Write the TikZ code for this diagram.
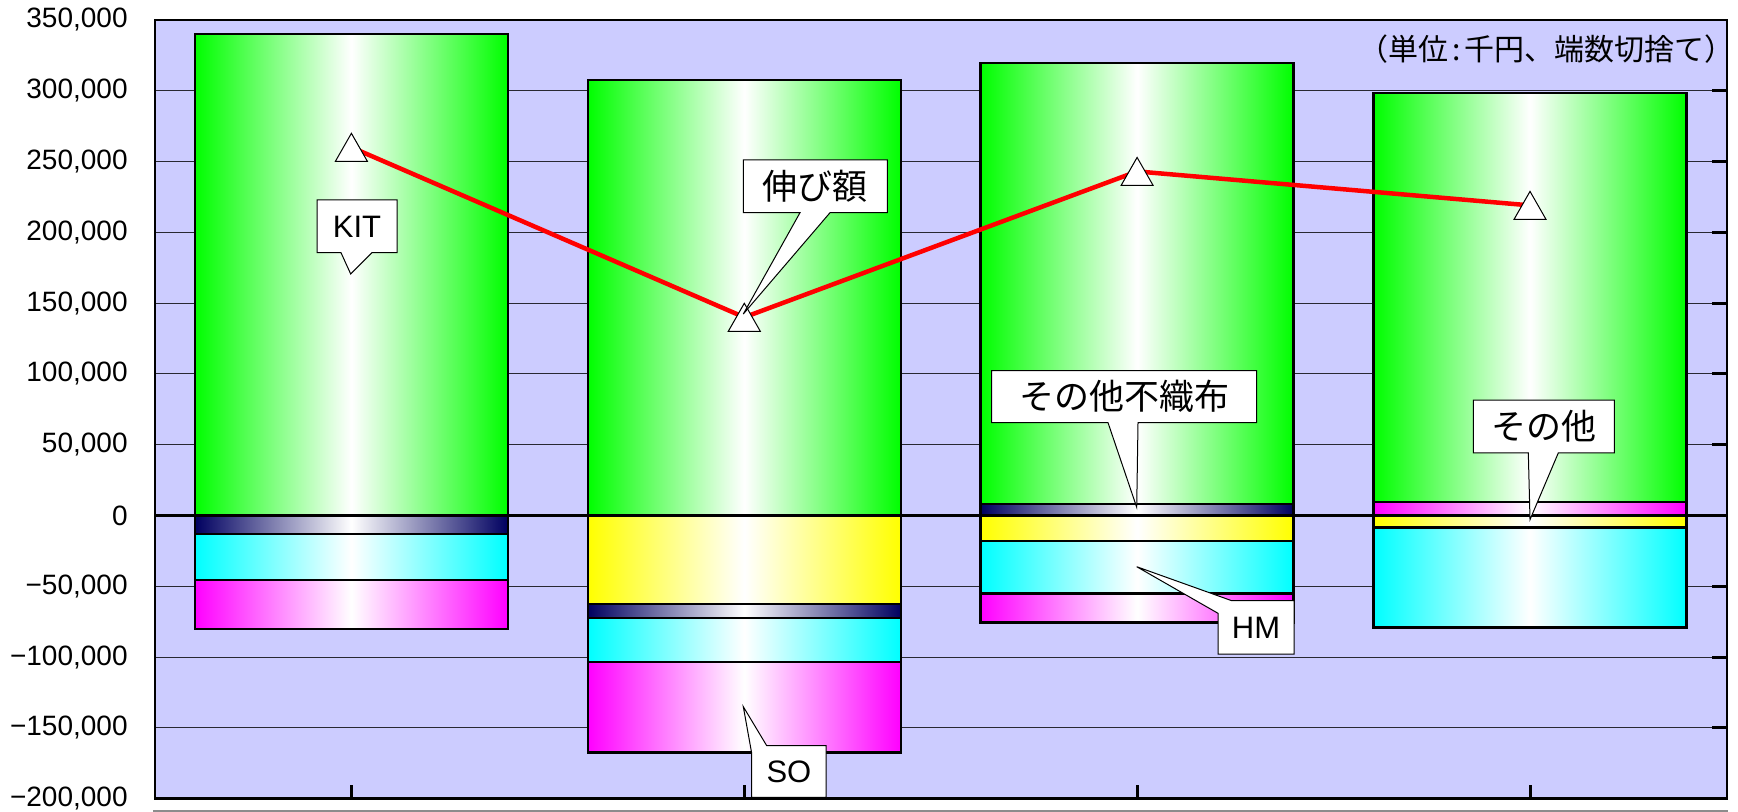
\documentclass[tikz,border=0pt]{standalone}
\usepackage{fontspec}
\setmainfont{Liberation Sans}
\newfontfamily\jpfont{Noto Sans CJK JP}
\definecolor{plotbg}{RGB}{204,204,255}
\definecolor{bgreen}{RGB}{0,255,0}
\definecolor{bcyan}{RGB}{0,255,255}
\definecolor{bmag}{RGB}{255,0,255}
\definecolor{byel}{RGB}{255,255,0}
\definecolor{bnavy}{RGB}{0,0,96}
\definecolor{gridc}{RGB}{40,40,50}
\begin{document}
\begin{tikzpicture}[x=0.5pt,y=-0.5pt,
  seg/.style={draw=black,line width=1.2pt,left color=#1,right color=#1,middle color=white},
  gridline/.style={draw=gridc,line width=0.5pt},
  ylab/.style={anchor=east,inner sep=0pt,font=\fontsize{14pt}{16pt}\selectfont},
  callout/.style={draw=black,fill=white,line width=0.5pt,line join=miter},
  lattext/.style={inner sep=0pt,font=\fontsize{15.5pt}{18pt}\selectfont},
  jptext/.style={inner sep=0pt,font=\jpfont\fontsize{17.5pt}{20pt}\selectfont},
  trimark/.style={draw=black,fill=white,line width=0.5pt},
  growth/.style={draw=red,line width=2.25pt}]
\useasboundingbox (0,0) rectangle (1738,812);
\fill[white] (0,0) rectangle (1738,812);
% plot area
\fill[plotbg] (155,19.9) rectangle (1726.5,798.7);
% value scope: x in px, y in thousands
\begin{scope}[shift={(0,515.5)},y=0.708pt]
  \foreach \v in {300,250,200,150,100,50,-50,-100,-150}
    \draw[gridline] (155,\v) -- (1726.5,\v);
  % bar 1
  \path[seg=bgreen] (194.9,0) rectangle (507.9,340);
  \path[seg=bnavy] (194.9,0) rectangle (507.9,-13);
  \path[seg=bcyan] (194.9,-13) rectangle (507.9,-45.5);
  \path[seg=bmag] (194.9,-45.5) rectangle (507.9,-80);
  % bar 2
  \path[seg=bgreen] (587.8,0) rectangle (900.8,307.5);
  \path[seg=byel] (587.8,0) rectangle (900.8,-62.5);
  \path[seg=bnavy] (587.8,-62.5) rectangle (900.8,-72.5);
  \path[seg=bcyan] (587.8,-72.5) rectangle (900.8,-103.5);
  \path[seg=bmag] (587.8,-103.5) rectangle (900.8,-167.5);
  % bar 3
  \path[seg=bnavy] (980.6,0) rectangle (1293.6,8);
  \path[seg=bgreen] (980.6,8) rectangle (1293.6,319.5);
  \path[seg=byel] (980.6,0) rectangle (1293.6,-18);
  \path[seg=bcyan] (980.6,-18) rectangle (1293.6,-55);
  \path[seg=bmag] (980.6,-55) rectangle (1293.6,-75.5);
  % bar 4
  \path[seg=bmag] (1373.5,0) rectangle (1686.5,9.5);
  \path[seg=bgreen] (1373.5,9.5) rectangle (1686.5,298.5);
  \path[seg=byel] (1373.5,0) rectangle (1686.5,-8.5);
  \path[seg=bcyan] (1373.5,-8.5) rectangle (1686.5,-79);
  % zero line
  \draw[black,line width=1.75pt] (155,0) -- (1726.5,0);
  % right ticks
  \foreach \v in {300,250,200,150,100,50,-50,-100,-150}
    \draw[black,line width=1.5pt] (1712,\v) -- (1726.5,\v);
  % growth points
  \coordinate (p1) at (351.4,260);
  \coordinate (p2) at (744.3,140);
  \coordinate (p3) at (1137.1,243);
  \coordinate (p4) at (1530,219);
\end{scope}
% borders
\draw[black,line width=1pt] (155,798.7) -- (155,19.9) -- (1726.5,19.9) -- (1726.5,798.7);
\draw[black,line width=1.5pt] (154,798.7) -- (1727.5,798.7);
\foreach \c in {351.4,744.3,1137.1,1530}
  \draw[black,line width=1.5pt] (\c,798.7) -- (\c,785);
\draw[black!45,line width=0.8pt] (153,811) -- (1728,811);
% growth line
\draw[growth] (p1) -- (p2) -- (p3) -- (p4);
\foreach \p in {p1,p2,p3,p4}
  \draw[trimark] (\p) ++(0,-14) -- ++(16,28) -- ++(-32,0) -- cycle;
% y labels
\node[ylab] (y350) at (128,19.9) {350,000};
\node[ylab] (y300) at (128,90.7) {300,000};
\node[ylab] (y250) at (128,161.5) {250,000};
\node[ylab] (y200) at (128,232.3) {200,000};
\node[ylab] (y150) at (128,303.1) {150,000};
\node[ylab] (y100) at (128,373.9) {100,000};
\node[ylab] (y50) at (128,444.7) {50,000};
\node[ylab] (y0) at (128,515.5) {0};
\node[ylab] (ym50) at (128,586.3) {−50,000};
\node[ylab] (ym100) at (128,657.1) {−100,000};
\node[ylab] (ym150) at (128,727.9) {−150,000};
\node[ylab] (ym200) at (128,798.7) {−200,000};
% unit note
\node[anchor=east,inner sep=0pt,font=\jpfont\fontsize{15pt}{17pt}\selectfont] (unit) at (1735,49) {（単位\hspace{2pt}:\hspace{2pt}千円、端数切捨て）};
% callouts
\coordinate (tkit) at (350.7,274);
\draw[callout] (317,200) -- (397,200) -- (397,252.7) -- (372,252.7) -- (tkit) -- (341,252.7) -- (317,252.7) -- cycle;
\node[lattext] (kit) at (357,226.4) {KIT};
\coordinate (tnobi) at (743.3,314);
\draw[callout] (743.3,160) -- (887.3,160) -- (887.3,212.7) -- (830,212.7) -- (tnobi) -- (800,212.7) -- (743.3,212.7) -- cycle;
\node[jptext] (nobi) at (815.3,186.4) {伸び額};
\coordinate (tfushoku) at (1136.7,507.3);
\draw[callout] (991.7,370.7) -- (1256.7,370.7) -- (1256.7,422.7) -- (1138,422.7) -- (tfushoku) -- (1108,422.7) -- (991.7,422.7) -- cycle;
\node[jptext] (fushoku) at (1124.2,396.7) {その他不織布};
\coordinate (thm) at (1136.7,566.7);
\draw[callout] (1231.7,600.7) -- (1294,600.7) -- (1294,654) -- (1218,654) -- (1218,613.3) -- (thm) -- cycle;
\node[lattext] (hm) at (1256,627.4) {HM};
\coordinate (tso) at (743.3,706.7);
\draw[callout] (766.7,745.7) -- (826,745.7) -- (826,797.3) -- (751.7,797.3) -- (751.7,753.3) -- (tso) -- cycle;
\node[lattext] (so) at (788.9,771.5) {SO};
\coordinate (tsonota) at (1530,519.6);
\draw[callout] (1473.3,400) -- (1614.3,400) -- (1614.3,452.9) -- (1558.3,452.9) -- (tsonota) -- (1528.3,452.9) -- (1473.3,452.9) -- cycle;
\node[jptext] (sonota) at (1543.8,426.5) {その他};
\end{tikzpicture}
\end{document}
